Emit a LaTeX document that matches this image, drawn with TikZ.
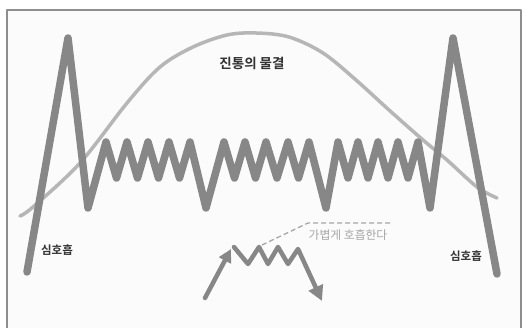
\documentclass[tikz,border=0pt]{standalone}
\usepackage{fontspec}
\newfontfamily\krfont{Noto Sans CJK KR}[BoldFont={Noto Sans CJK KR Bold}]
\usetikzlibrary{arrows.meta}
\definecolor{wavegray}{HTML}{878787}
\definecolor{tidegray}{HTML}{B6B6B6}
\definecolor{inkgray}{HTML}{333333}
\definecolor{hintgray}{HTML}{A6A6A6}
\definecolor{framegray}{HTML}{8E8E8E}
\definecolor{paper}{HTML}{FBFBFB}

\begin{document}
\begin{tikzpicture}[x=1pt, y=-1pt, line join=round, line cap=round,
  breathline/.style={draw=wavegray, line width=7.5pt},
  tideline/.style={draw=tidegray, line width=3.5pt},
  smallbreath/.style={draw=wavegray, line width=4.5pt},
  hint/.style={draw=hintgray, line width=1.3pt, dash pattern=on 5pt off 3pt, line cap=butt},
  label/.style={font=\krfont\bfseries#1, text=inkgray, inner sep=0pt}]

\useasboundingbox (0,0) rectangle (523,328);

% Background
\fill[white] (0,0) rectangle (523,328);
\fill[paper] (7,10) rectangle (521,335);
\draw[framegray, line width=1.5pt, line cap=butt] (7,335) -- (7,10) -- (521,10) -- (521,335);

% Wave of labour
\draw[tideline] plot[smooth, tension=0.55] coordinates {(20,216) (33,207) (80,163) (127,103)
  (160,67) (193,47) (227,35) (256,33) (289,37) (323,53) (356,80) (389,110) (423,140)
  (447,160) (477,187) (497,198)};

% Breathing line
\draw[breathline] (27,272) -- (68,38) -- (88,208)
  -- (106,142) -- (116.5,178) -- (127,142) -- (137.5,178) -- (148,142)
  -- (158.5,178) -- (169,142) -- (179.5,178) -- (190,142) -- (206,208)
  -- (224,142) -- (234.5,178) -- (245,142) -- (255.5,178) -- (266,142)
  -- (277,178) -- (288,142) -- (298.5,178) -- (309,142) -- (326,208)
  -- (338,142) -- (348,178) -- (358,142) -- (368,178) -- (378,142)
  -- (388,178) -- (398,142) -- (408,178) -- (418,142) -- (430,208)
  -- (453,38) -- (497,274);

% Labels
\node[label=\fontsize{13.5}{15}\selectfont] (title) at (252,63) {진통의 물결};
\node[label=\fontsize{11.5}{13}\selectfont] (deepL) at (57,250) {심호흡};
\node[label=\fontsize{11.5}{13}\selectfont] (deepR) at (466,256) {심호흡};
\node[font=\krfont\fontsize{11.8}{13}\selectfont, text=hintgray, inner sep=0pt]
  (light) at (348,235) {가볍게 호흡한다};

% Light breathing
\coordinate (inL) at (205,298);
\coordinate (inR) at (231,249);
\coordinate (outL) at (234,247);
\coordinate (outR) at (322,301);
\coordinate (hintS) at (262,245);
\coordinate (hintE) at (393,223);
\draw[smallbreath, -{Triangle[length=13pt, width=13pt]}] (inL) -- (inR);
\draw[smallbreath, -{Triangle[length=15pt, width=15pt]}] (outL) -- (248,264) -- (259,247)
  -- (268,264) -- (278,247) -- (288,264) -- (298,249) -- (outR);
\draw[hint] (hintS) -- (308,223) -- (hintE);

\end{tikzpicture}
\end{document}
